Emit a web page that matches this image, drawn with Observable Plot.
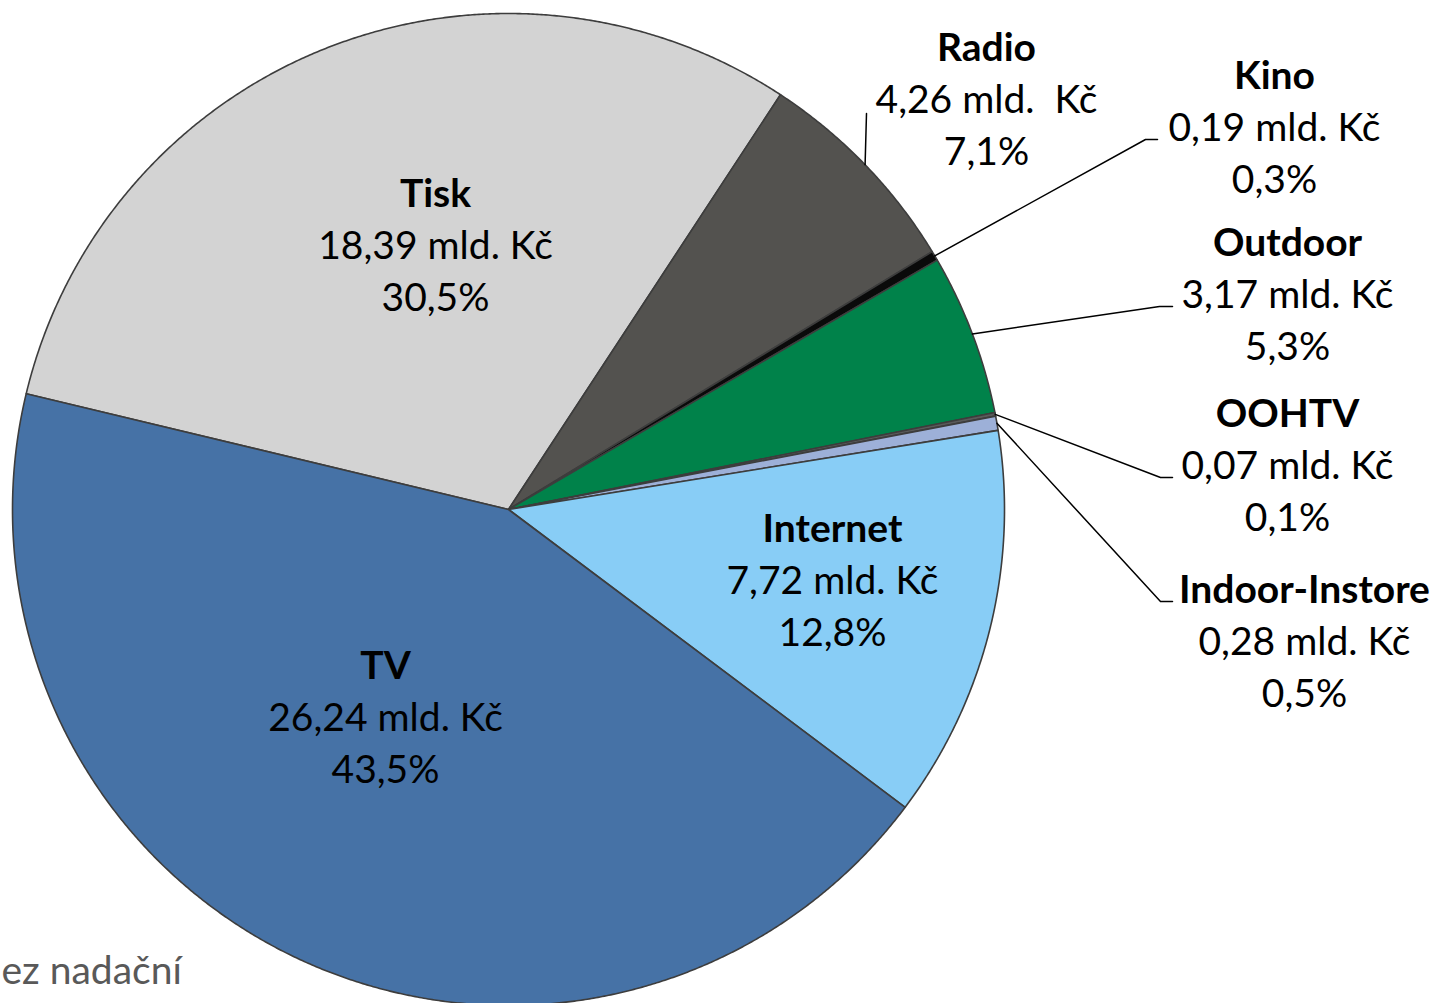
<!DOCTYPE html>
<html><head><meta charset="utf-8">
<script src="https://cdn.jsdelivr.net/npm/d3@7"></script>
<script src="https://cdn.jsdelivr.net/npm/@observablehq/plot@0.6"></script>
<style>html,body{margin:0;padding:0;background:#fff;overflow:hidden}</style>
</head><body><div id="chart"></div>
<script>
// ---- data ----
const categories = ["Tisk", "Radio", "Kino", "Outdoor", "OOHTV", "Indoor-Instore", "Internet", "TV"];
const values = [18.39, 4.26, 0.19, 3.17, 0.07, 0.28, 7.72, 26.24];
const valueLabels = ["18,39 mld. Kč", "4,26 mld.\u00a0 Kč", "0,19 mld. Kč", "3,17 mld. Kč", "0,07 mld. Kč", "0,28 mld. Kč", "7,72 mld. Kč", "26,24 mld. Kč"];
const percentLabels = ["30,5%", "7,1%", "0,3%", "5,3%", "0,1%", "0,5%", "12,8%", "43,5%"];
const footText = "ez nadační";

// ---- styles / layout ----
const colors = ["#d3d3d3", "#53524f", "#0a0a0a", "#00824a", "#5a5a5a", "#9db0d8", "#88cdf6", "#4672a6"];
const startDeg = -76.5;          // where the first slice (Tisk) begins, clockwise from 12 o'clock
const R = 496;                   // pie radius in data units
// label anchors (centre of the name line), relative to pie centre, y up
const labelAnchor = [[-73, 315], [478, 461], [766, 433], [779, 266], [779, 95], [796, -81], [324, -20], [-123, -157]];
// leader lines: extra points after the slice edge (null = label inside)
const leaderPts = [null, [[358, 396]], [[637, 370], [649, 370]], [[651, 203], [664, 203]], [[652, 32], [664, 32]], [[652, -92], [664, -92]], null, null];

const rows = categories.map((c, i) => ({name: c, value: values[i], color: colors[i], vlab: valueLabels[i], plab: percentLabels[i], ax: labelAnchor[i][0], ay: labelAnchor[i][1]}));
const s0 = startDeg * Math.PI / 180;
const arcs = d3.pie().sort(null).value(d => d.value).startAngle(s0).endAngle(s0 + 2 * Math.PI)(rows);

function slicePoints(a) {
  const pts = [{x: 0, y: 0}];
  const n = Math.max(2, Math.ceil((a.endAngle - a.startAngle) / (Math.PI / 720)));
  for (let i = 0; i <= n; i++) {
    const t = a.startAngle + (a.endAngle - a.startAngle) * i / n;
    pts.push({x: R * Math.sin(t), y: R * Math.cos(t)});
  }
  return pts;
}

const sliceMarks = arcs.map(a => Plot.line(slicePoints(a), {
  x: "x", y: "y", curve: "linear-closed", fill: a.data.color,
  stroke: "#3d3d3d", strokeWidth: 1.6, strokeLinejoin: "round"
}));

const leaderMarks = [];
arcs.forEach((a, i) => {
  if (!leaderPts[i]) return;
  const mid = (a.startAngle + a.endAngle) / 2;
  const pts = [{x: R * Math.sin(mid), y: R * Math.cos(mid)}, ...leaderPts[i].map(p => ({x: p[0], y: p[1]}))];
  leaderMarks.push(Plot.line(pts, {x: "x", y: "y", stroke: "#000", strokeWidth: 1.5}));
});

const font = {fontSize: 39, fill: "#000", textAnchor: "middle", lineAnchor: "middle"};

const chart = Plot.plot({
  width: 1435, height: 1003,
  margin: 0,
  x: {domain: [-508, 927], axis: null},
  y: {domain: [-494, 509], axis: null},
  style: {fontFamily: "Lato, 'Open Sans', sans-serif", background: "#fff", overflow: "visible"},
  marks: [
    ...sliceMarks,
    ...leaderMarks,
    Plot.text(rows, {x: "ax", y: "ay", text: "name", fontWeight: "bold", ...font}),
    Plot.text(rows, {x: "ax", y: "ay", text: "vlab", dy: 52, ...font}),
    Plot.text(rows, {x: "ax", y: "ay", text: "plab", dy: 104, ...font}),
    Plot.text([footText], {x: -507, y: -462, text: d => d, fontSize: 39, fill: "#595959", textAnchor: "start", lineAnchor: "middle"})
  ]
});
document.getElementById("chart").appendChild(chart);
</script>
</body></html>
